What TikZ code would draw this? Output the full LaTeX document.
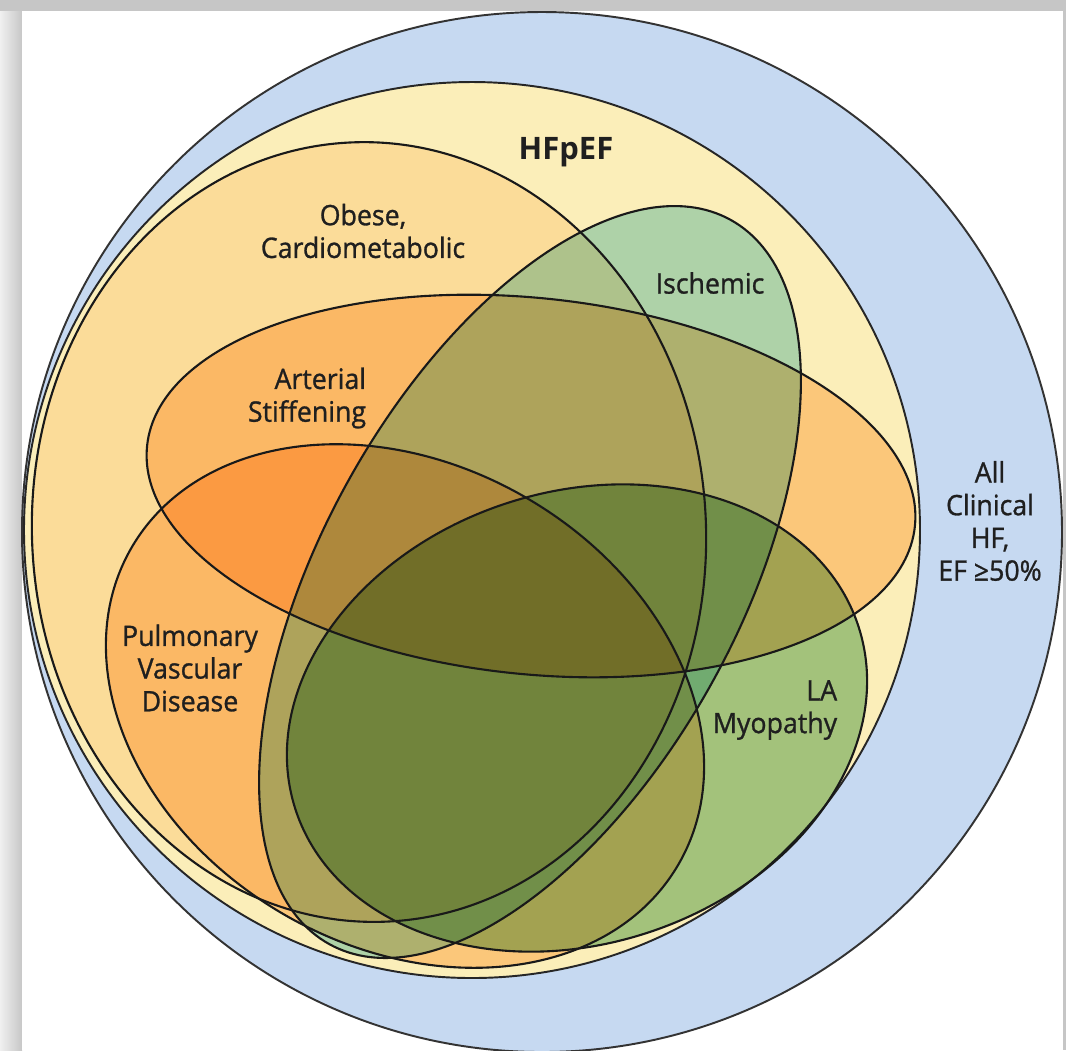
\documentclass[tikz,border=0pt]{standalone}
\usepackage{fontspec}
\setmainfont{Open Sans}
\newfontfamily\lblfont{Open Sans}[FakeStretch=0.95, FakeBold=1]
\definecolor{frame}{HTML}{C6C6C6}
\definecolor{allhf}{HTML}{C6D9F1}
\definecolor{hfpef}{HTML}{FBEEB9}
\definecolor{obese}{RGB}{255,236,212}
\definecolor{arterial}{RGB}{255,214,169}
\definecolor{pulm}{RGB}{255,214,169}
\definecolor{ischemic}{RGB}{177,226,232}
\definecolor{lamyo}{RGB}{166,208,170}
\tikzset{
  outline/.style={draw=black!90, line width=0.6pt},
  lbl/.style={font=\lblfont\fontsize{8}{9.3}\selectfont, text=black!88, align=center, inner sep=0pt},
  obeseshape/.style={rotate around={3:(369,532)}},
  artshape/.style={rotate around={-6:(531,486)}},
  pvdshape/.style={rotate around={-30:(405,706)}},
  ischshape/.style={rotate around={61:(530,582)}},
  lashape/.style={rotate around={18:(577,718)}},
}
\begin{document}
\begin{tikzpicture}[x=0.01cm, y=-0.01cm]
  \useasboundingbox (0,0) rectangle (1066,1050);
  \clip (0,0) rectangle (1066,1050);
  % page frame
  \fill[frame] (0,0) rectangle (1066,1050);
  \shade[left color=black!6, right color=black!22] (0,11) rectangle (22,1050);
  \fill[white] (22,11) rectangle (1063,1050);

  % the two reference circles
  \path[fill=allhf, draw=black!80, line width=0.55pt] (542,532) circle [radius=520];
  \path[fill=hfpef, draw=black!85, line width=0.55pt] (472,530) circle [radius=448];

  % phenotype ellipses, multiplied over each other
  \begin{scope}[blend mode=multiply]
    \fill[obese, obeseshape] (369,532) ellipse [x radius=337, y radius=390];
    \fill[arterial, artshape] (531,486) ellipse [x radius=386, y radius=188];
    \fill[pulm, pvdshape] (405,706) ellipse [x radius=316, y radius=241];
    \fill[ischemic, ischshape] (530,582) ellipse [x radius=414, y radius=208];
    \fill[lamyo, lashape] (577,718) ellipse [x radius=296, y radius=226];
  \end{scope}
  \draw[outline, obeseshape] (369,532) ellipse [x radius=337, y radius=390];
  \draw[outline, artshape] (531,486) ellipse [x radius=386, y radius=188];
  \draw[outline, pvdshape] (405,706) ellipse [x radius=316, y radius=241];
  \draw[outline, ischshape] (530,582) ellipse [x radius=414, y radius=208];
  \draw[outline, lashape] (577,718) ellipse [x radius=296, y radius=226];

  % labels
  \node[lbl, font=\fontsize{8.8}{10}\selectfont\bfseries] (hfpeflbl) at (566,152) {HFpEF};
  \node[lbl] (obeselbl) at (363,231) {Obese,\\Cardiometabolic};
  \node[lbl] (ischlbl) at (710,283) {Ischemic};
  \node[lbl, align=right] (artlbl) at (307,398) {Arterial\\Stiffening};
  \node[lbl] (pvdlbl) at (190,668) {Pulmonary\\Vascular\\Disease};
  \node[lbl, align=right] (lalbl) at (775,710) {LA\\Myopathy};
  \node[lbl] (alllbl) at (990,521) {All\\Clinical\\HF,\\EF ≥50\%};
\end{tikzpicture}
\end{document}
